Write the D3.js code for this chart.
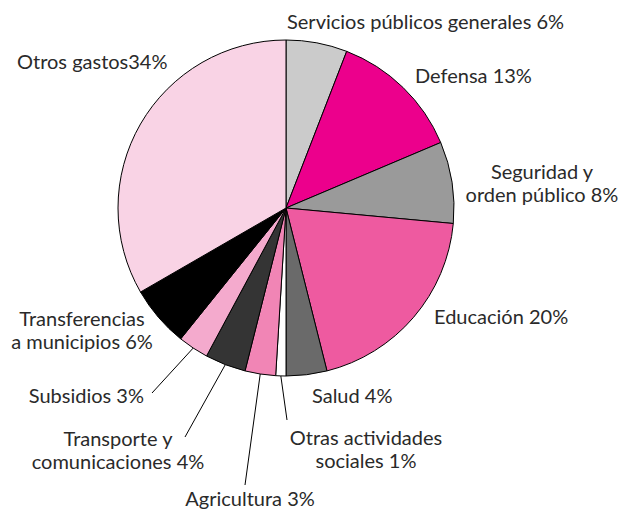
<!DOCTYPE html>
<html>
<head>
<meta charset="utf-8">
<script src="https://cdn.jsdelivr.net/npm/d3@7"></script>
<style>
  html, body { margin: 0; padding: 0; background: #fff; }
  svg { display: block; }
  text { font-family: Lato, "Open Sans", sans-serif; font-size: 20px; fill: #2a2a2a; }
</style>
</head>
<body>
<svg id="chart" width="625" height="511"></svg>
<script>
// ---- data ----
const categories = [
  "Servicios públicos generales", "Defensa", "Seguridad y orden público",
  "Educación", "Salud", "Otras actividades sociales", "Agricultura",
  "Transporte y comunicaciones", "Subsidios", "Transferencias a municipios",
  "Otros gastos"
];
const values = [6, 13, 8, 20, 4, 1, 3, 4, 3, 6, 34];
const labelLines = [
  ["Servicios públicos generales 6%"],
  ["Defensa 13%"],
  ["Seguridad y", "orden público 8%"],
  ["Educación 20%"],
  ["Salud 4%"],
  ["Otras actividades", "sociales 1%"],
  ["Agricultura 3%"],
  ["Transporte y", "comunicaciones 4%"],
  ["Subsidios 3%"],
  ["Transferencias", "a municipios 6%"],
  ["Otros gastos34%"]
];

// ---- styles / layout ----
const colors = ["#cbcbcb", "#ec008c", "#9a9a9a", "#ee5aa0", "#6a6a6a", "#ffffff",
                "#f185b5", "#343434", "#f4aacd", "#000000", "#f9d3e5"];
const cx = 286, cy = 208, radius = 168;
// label anchor x, first baseline y, text-anchor, optional leader end point
const labelLayout = [
  { x: 287, y: 29, anchor: "start" },
  { x: 415, y: 83, anchor: "start" },
  { x: 542, y: 179, anchor: "middle" },
  { x: 434, y: 324, anchor: "start" },
  { x: 312, y: 403, anchor: "start" },
  { x: 366, y: 445, anchor: "middle", leader: [287, 420] },
  { x: 250, y: 506, anchor: "middle", leader: [245, 485] },
  { x: 118, y: 446, anchor: "middle", leader: [185, 437] },
  { x: 144, y: 403, anchor: "end", leader: [152, 393] },
  { x: 82, y: 326, anchor: "middle" },
  { x: 17, y: 69, anchor: "start" }
];
const lineHeight = 23;

const svg = d3.select("#chart");
const g = svg.append("g").attr("transform", `translate(${cx},${cy})`);

const pie = d3.pie().sort(null).value(d => d.value);
const data = categories.map((c, i) => ({ name: c, value: values[i], i }));
const arcs = pie(data);
const arc = d3.arc().innerRadius(0).outerRadius(radius);

g.selectAll("path.slice")
  .data(arcs)
  .join("path")
  .attr("class", "slice")
  .attr("d", arc)
  .attr("fill", d => colors[d.data.i])
  .attr("stroke", "#000")
  .attr("stroke-width", 1)
  .attr("stroke-linejoin", "round");

// leader lines
const edgeArc = d3.arc().innerRadius(radius).outerRadius(radius);
arcs.forEach(a => {
  const L = labelLayout[a.data.i];
  if (!L.leader) return;
  const [sx, sy] = edgeArc.centroid(a);
  svg.append("line")
    .attr("x1", cx + sx).attr("y1", cy + sy)
    .attr("x2", L.leader[0]).attr("y2", L.leader[1])
    .attr("stroke", "#000").attr("stroke-width", 1);
});

// labels
arcs.forEach(a => {
  const L = labelLayout[a.data.i];
  const t = svg.append("text")
    .attr("text-anchor", L.anchor);
  labelLines[a.data.i].forEach((line, k) => {
    t.append("tspan").attr("x", L.x).attr("y", L.y + k * lineHeight).text(line);
  });
});
</script>
</body>
</html>
